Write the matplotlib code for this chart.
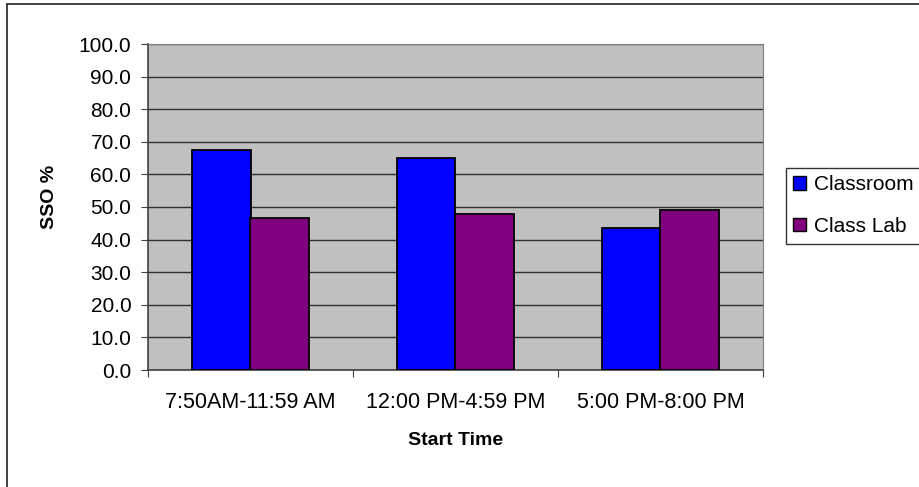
import matplotlib
matplotlib.use('Agg')
import matplotlib.pyplot as plt
import matplotlib.patches as mpatches
import numpy as np

plt.rcParams['font.family'] = ['Liberation Sans', 'DejaVu Sans']

categories = ['7:50AM-11:59 AM', '12:00 PM-4:59 PM', '5:00 PM-8:00 PM']
classroom = [67.5, 65.1, 43.5]
class_lab = [46.6, 47.9, 49.1]
series_names = ['Classroom', 'Class Lab']
series_colors = ['#0000FF', '#800080']
yticks = np.arange(0, 101, 10)

fig = plt.figure(figsize=(9.19, 4.87), dpi=100)
ax = fig.add_axes([148 / 919, 1 - 370 / 487, 615 / 919, 326 / 487])

# outer chart border
fig.add_artist(mpatches.Rectangle((7 / 919, -0.1), 1.2, 1 - 4 / 487 + 0.1,
                                  transform=fig.transFigure, fill=False,
                                  edgecolor='#202020', linewidth=1.2))

ax.set_facecolor('#C0C0C0')
x = np.arange(len(categories))
w = 0.286
ax.bar(x - w / 2, classroom, w, color=series_colors[0], edgecolor='black',
       linewidth=1.3, zorder=3)
ax.bar(x + w / 2, class_lab, w, color=series_colors[1], edgecolor='black',
       linewidth=1.3, zorder=3)

ax.set_ylim(0, 100)
ax.set_xlim(-0.5, len(categories) - 0.5)
ax.set_yticks(yticks)
ax.set_yticklabels([f'{v:.1f}' for v in yticks])
ax.yaxis.grid(True, color='#303030', linewidth=1.0, zorder=1)
ax.set_axisbelow(True)

ax.set_xticks(np.arange(-0.5, len(categories), 1.0))
ax.set_xticklabels([])
ax.set_xticks(x, minor=True)
ax.set_xticklabels(categories, minor=True)
ax.tick_params(axis='x', which='minor', length=0, pad=16, labelsize=15.5)
ax.tick_params(axis='x', which='major', length=5, direction='out',
               color='#404040')
ax.tick_params(axis='y', length=5, pad=7, labelsize=15, color='#404040')

for side in ['top', 'right']:
    ax.spines[side].set_color('#808080')
for side in ['left', 'bottom']:
    ax.spines[side].set_color('#404040')
    ax.spines[side].set_linewidth(1.2)

ax.set_xlabel('Start Time', fontsize=14, fontweight='bold')
ax.xaxis.set_label_coords(0.5, -0.19)
ax.set_ylabel('SSO %', fontsize=14, fontweight='bold')
ax.yaxis.set_label_coords(-0.146, 0.53)

handles = [mpatches.Patch(facecolor=c, edgecolor='black', linewidth=1.0,
                          label=n) for n, c in zip(series_names, series_colors)]
leg = fig.legend(handles=handles, loc='upper left',
                 bbox_to_anchor=(786 / 919, 1 - 168 / 487), fontsize=15,
                 frameon=True, fancybox=False, edgecolor='black',
                 handlelength=0.6, handleheight=0.6, handletextpad=0.4,
                 borderpad=0.35, labelspacing=1.1, borderaxespad=0)
leg.get_frame().set_linewidth(1.0)

fig.savefig('out.png', dpi=100)
